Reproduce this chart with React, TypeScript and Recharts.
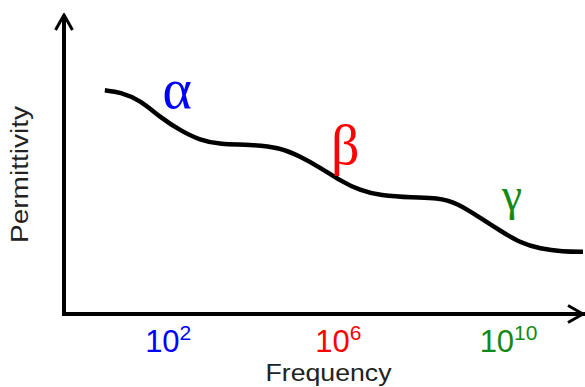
import React from "react";
import { LineChart, Line, XAxis, YAxis, ReferenceDot } from "recharts";

// log10(frequency) sample points along the curve
const logFreq = [0.51, 0.87, 1.34, 1.81, 2.28, 2.75, 3.22, 3.92, 4.63, 5.1, 5.57, 6.04, 6.51, 6.98, 7.75, 8.32, 8.79, 9.33, 9.8, 10.27, 10.74, 11.28, 11.75];
// relative permittivity (arbitrary units)
const permittivity = [74.8, 74.2, 71.5, 65.8, 61.4, 58.1, 56.7, 56.7, 55.7, 52.7, 49.0, 44.6, 41.3, 39.6, 38.9, 38.9, 37.2, 32.2, 27.9, 23.8, 21.8, 20.8, 20.8];

const tickExponents = [2, 6, 10];
const tickColors = ["#0000ff", "#ff0000", "#138a13"];

const dispersionNames = ["α", "β", "γ"];
const dispersionLogFreq = [2.21, 6.16, 10.08];
const dispersionLevel = [68.8, 50.3, 34.9];
const dispersionColors = ["#0000ff", "#ff0000", "#138a13"];
const dispersionFontSize = [56, 56, 46];

const data = logFreq.map((f, i) => ({ f, p: permittivity[i] }));

const SANS = "'Liberation Sans', Arial, sans-serif";

const FreqTick = (props: any) => {
  const { x, y, payload, index } = props;
  return (
    <text x={x} y={y + 38} textAnchor="middle" fill={tickColors[index]} fontFamily={SANS} fontSize={31}>
      10
      <tspan dy={-12} fontSize={21}>{payload.value}</tspan>
    </text>
  );
};

const GreekLabel = (color: string, text: string, size: number) => (props: any) => {
  const { viewBox } = props;
  return (
    <text x={viewBox.x + viewBox.width / 2} y={viewBox.y + viewBox.height / 2} textAnchor="middle" fill={color} fontFamily="'Liberation Serif', 'Times New Roman', serif" fontSize={size}>
      {text}
    </text>
  );
};

export default function App() {
  return (
    <div style={{ position: "absolute", left: 0, top: 0, background: "#fff" }}>
      <svg width={0} height={0} style={{ position: "absolute" }}>
        <defs>
          <marker id="arrowHead" viewBox="-18 -11 20 22" refX={0} refY={0} markerWidth={20} markerHeight={22} markerUnits="userSpaceOnUse" orient="auto-start-reverse">
            <path d="M -15 -8.5 L 0 0 L -15 8.5" fill="none" stroke="#000" strokeWidth={3} />
          </marker>
        </defs>
      </svg>
      <LineChart width={585} height={387} data={data} margin={{ top: 15, right: 2, bottom: 72, left: 63 }}>
        <XAxis
          dataKey="f"
          type="number"
          domain={[-0.45, 11.75]}
          allowDataOverflow
          ticks={tickExponents}
          tick={<FreqTick />}
          tickLine={false}
          tickSize={0}
          tickMargin={0}
          height={1}
          axisLine={{ stroke: "#000", strokeWidth: 4, strokeLinecap: "square", markerEnd: "url(#arrowHead)" } as any}
          label={{
            content: (p: any) => (
              <text x={p.viewBox.x + p.viewBox.width / 2 + 5} y={p.viewBox.y + 67} textAnchor="middle" fill="#222" fontFamily={SANS} fontSize={23.5} textLength={126} lengthAdjust="spacingAndGlyphs">
                Frequency
              </text>
            ),
          } as any}
        />
        <YAxis
          type="number"
          domain={[0, 100]}
          allowDataOverflow
          tick={false}
          tickLine={false}
          width={1}
          axisLine={{ stroke: "#000", strokeWidth: 4, markerStart: "url(#arrowHead)" } as any}
          label={{
            content: (p: any) => {
              const cx = 28;
              const cy = p.viewBox.y + p.viewBox.height / 2 + 10;
              return (
                <text x={cx} y={cy} transform={`rotate(-90 ${cx} ${cy})`} textAnchor="middle" fill="#222" fontFamily={SANS} fontSize={23.5} textLength={137} lengthAdjust="spacingAndGlyphs">
                  Permittivity
                </text>
              );
            },
          } as any}
        />
        <Line type="basis" dataKey="p" stroke="#000" strokeWidth={4.5} dot={false} isAnimationActive={false} />
        {dispersionNames.map((n, i) => (
          <ReferenceDot
            key={n}
            x={dispersionLogFreq[i]}
            y={dispersionLevel[i]}
            r={0}
            stroke="none"
            fill="none"
            label={{ content: GreekLabel(dispersionColors[i], n, dispersionFontSize[i]) } as any}
          />
        ))}
      </LineChart>
    </div>
  );
}
